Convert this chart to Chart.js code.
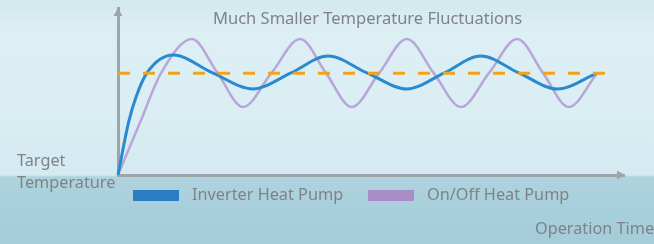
<!DOCTYPE html>
<html>
<head>
<meta charset="utf-8">
<script src="https://cdn.jsdelivr.net/npm/chart.js@4.4.1/dist/chart.umd.min.js"></script>
<style>
html,body{margin:0;padding:0;}
body{width:654px;height:244px;overflow:hidden;position:relative;
  background:linear-gradient(to bottom,#d2e8ee 0px,#ddeff3 30px,#daeef3 110px,#d4eaf0 175px,#aed3de 177px,#a7cedb 215px,#a4ccd9 244px);
  font-family:"Noto Sans",sans-serif;color:#7e8387;}
.t{position:absolute;font-size:16.25px;line-height:16px;white-space:nowrap;}
.box{position:absolute;width:46px;height:11px;}
#c{position:absolute;left:0;top:0;}
</style>
</head>
<body>
<canvas id="c" width="654" height="244"></canvas>
<div class="t" style="left:213px;top:10px;font-size:16.5px;">Much Smaller Temperature Fluctuations</div>
<div class="t" style="left:17px;top:149px;line-height:22px;">Target<br>Temperature</div>
<div class="t" style="left:535px;top:220px;">Operation Time</div>
<div class="box" style="left:133px;top:190px;background:#2a7dc2;"></div>
<div class="t" id="l1" style="left:192px;top:186px;"></div>
<div class="box" style="left:368px;top:190px;background:#a98dc7;"></div>
<div class="t" id="l2" style="left:427px;top:186px;"></div>
<script>
// ---- data (x: operation time, y: temperature, arbitrary units) ----
const seriesNames = ["Inverter Heat Pump", "On/Off Heat Pump"];
const targetLevel = 61;
const targetX = [0, 98];

const inverterX = [0, 2.1, 3.6, 5.7, 10.9, 18.8, 26.7, 34.1, 41.5, 49.3, 57.1, 64.4, 71.7, 79.3, 86.8, 94.7];
const inverterY = [0, 31.7, 47, 61, 71.8, 61, 51.5, 61, 71.3, 61, 51.5, 61, 71.3, 61, 51.5, 61];

const onOffX = [0, 4.4, 8.5, 14.6, 19.7, 24.7, 30.3, 36.0, 41.1, 46.2, 51.6, 57.1, 62.4, 67.8, 73.3, 78.9, 84.0, 89.1, 94.7];
const onOffY = [0, 31.7, 61, 81.4, 61, 40.7, 61, 81.4, 61, 40.7, 61, 81.4, 61, 40.7, 61, 81.4, 61, 40.7, 61];

document.getElementById('l1').textContent = seriesNames[0];
document.getElementById('l2').textContent = seriesNames[1];

const pts = (xs, ys) => xs.map((x, i) => ({x: x, y: ys[i]}));
const axisColor = '#9ca5a9';

const arrows = {
  id: 'arrows',
  afterDraw(chart) {
    const ctx = chart.ctx;
    const a = chart.chartArea;
    ctx.save();
    ctx.fillStyle = axisColor;
    ctx.beginPath();
    ctx.moveTo(a.left, a.top);
    ctx.lineTo(a.left - 4.5, a.top + 8);
    ctx.lineTo(a.left + 4.5, a.top + 8);
    ctx.closePath();
    ctx.fill();
    ctx.beginPath();
    ctx.moveTo(a.right + 1, a.bottom);
    ctx.lineTo(a.right - 7, a.bottom - 4.5);
    ctx.lineTo(a.right - 7, a.bottom + 4.5);
    ctx.closePath();
    ctx.fill();
    ctx.restore();
  }
};

new Chart(document.getElementById('c'), {
  type: 'line',
  data: {
    datasets: [
      {
        label: 'Target Temperature',
        data: pts(targetX, targetX.map(() => targetLevel)),
        borderColor: '#f5a21b',
        borderWidth: 3,
        borderDash: [12, 13],
        pointRadius: 0,
        order: 0,
        clip: false
      },
      {
        label: seriesNames[0],
        data: pts(inverterX, inverterY),
        borderColor: '#2a8ad0',
        borderWidth: 3,
        cubicInterpolationMode: 'monotone',
        pointRadius: 0,
        order: 1,
        clip: false
      },
      {
        label: seriesNames[1],
        data: pts(onOffX, onOffY),
        borderColor: '#b8a6d8',
        borderWidth: 2.5,
        cubicInterpolationMode: 'monotone',
        pointRadius: 0,
        order: 2,
        clip: false
      }
    ]
  },
  options: {
    responsive: false,
    animation: false,
    devicePixelRatio: 1,
    layout: {padding: {left: 118, top: 8, right: 30, bottom: 69}},
    plugins: {legend: {display: false}, tooltip: {enabled: false}},
    scales: {
      x: {
        type: 'linear', min: 0, max: 100,
        grid: {display: false, drawTicks: false},
        ticks: {display: false},
        border: {display: true, color: axisColor, width: 3},
        afterFit(s) { s.height = 0; }
      },
      y: {
        type: 'linear', min: 0, max: 100,
        grid: {display: false, drawTicks: false},
        ticks: {display: false},
        border: {display: true, color: axisColor, width: 3},
        afterFit(s) { s.width = 0; }
      }
    }
  },
  plugins: [arrows]
});
</script>
</body>
</html>
